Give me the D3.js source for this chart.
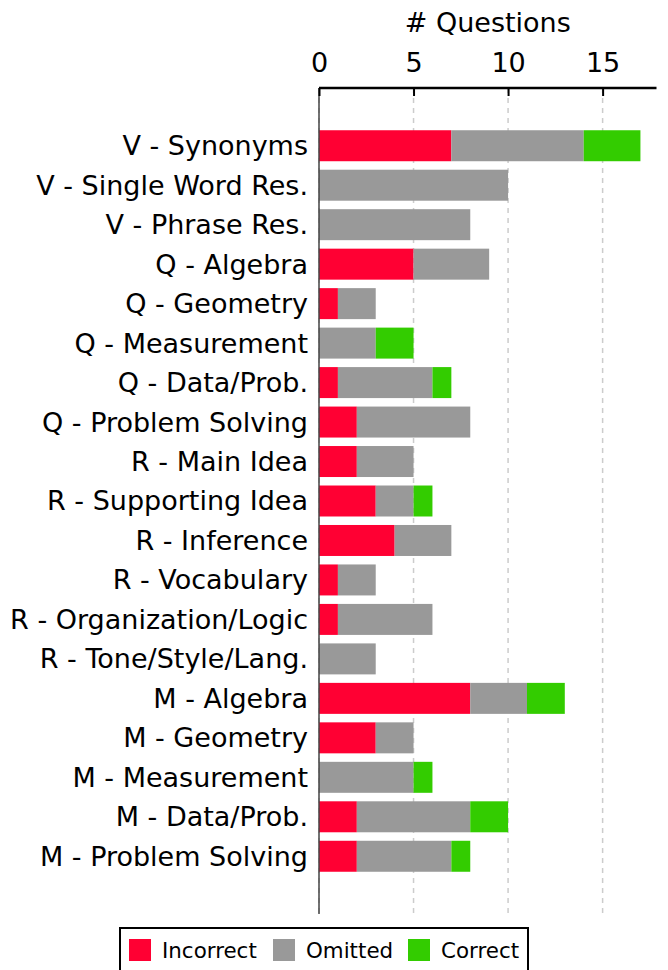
<!DOCTYPE html>
<html>
<head>
<meta charset="utf-8">
<script src="https://cdn.jsdelivr.net/npm/d3@7"></script>
<style>
  body { margin: 0; background: #fff; }
  text { font-family: "DejaVu Sans", sans-serif; fill: #000; }
</style>
</head>
<body>
<div id="chart"></div>
<script>
const categories = [
  "V - Synonyms", "V - Single Word Res.", "V - Phrase Res.",
  "Q - Algebra", "Q - Geometry", "Q - Measurement", "Q - Data/Prob.", "Q - Problem Solving",
  "R - Main Idea", "R - Supporting Idea", "R - Inference", "R - Vocabulary",
  "R - Organization/Logic", "R - Tone/Style/Lang.",
  "M - Algebra", "M - Geometry", "M - Measurement", "M - Data/Prob.", "M - Problem Solving"
];
const incorrect = [7, 0, 0, 5, 1, 0, 1, 2, 2, 3, 4, 1, 1, 0, 8, 3, 0, 2, 2];
const omitted   = [7, 10, 8, 4, 2, 3, 5, 6, 3, 2, 3, 2, 5, 3, 3, 2, 5, 6, 5];
const correct   = [3, 0, 0, 0, 0, 2, 1, 0, 0, 1, 0, 0, 0, 0, 2, 0, 1, 2, 1];
const seriesNames = ["Incorrect", "Omitted", "Correct"];
const seriesColors = ["#ff0033", "#999999", "#33cc00"];
const xTicks = [0, 5, 10, 15];

const width = 668, height = 970;
const svg = d3.select("#chart").append("svg")
  .attr("width", width).attr("height", height);

const x = d3.scaleLinear().domain([0, 17.85]).range([319, 656.5]);
const y = d3.scaleBand().domain(categories).range([126, 876])
  .paddingInner(0.215).paddingOuter(0.1075);

const plotTop = 88, plotBottom = 914;

// grid
svg.append("g").selectAll("line")
  .data(xTicks)
  .enter().append("line")
  .attr("x1", d => x(d)).attr("x2", d => x(d))
  .attr("y1", plotTop).attr("y2", plotBottom)
  .attr("stroke", "#cccccc").attr("stroke-width", 1.5)
  .attr("stroke-dasharray", "5,5");

// stacked bars
const table = categories.map((c, i) => ({
  cat: c, Incorrect: incorrect[i], Omitted: omitted[i], Correct: correct[i]
}));
const stack = d3.stack().keys(seriesNames)(table);

svg.append("g").selectAll("g")
  .data(stack)
  .enter().append("g")
  .attr("fill", (d, i) => seriesColors[i])
  .selectAll("rect")
  .data(d => d.filter(s => s[1] > s[0]))
  .enter().append("rect")
  .attr("x", d => x(d[0]))
  .attr("width", d => x(d[1]) - x(d[0]))
  .attr("y", d => y(d.data.cat))
  .attr("height", y.bandwidth());

// left spine
svg.append("line")
  .attr("x1", x(0)).attr("x2", x(0))
  .attr("y1", plotTop).attr("y2", plotBottom)
  .attr("stroke", "#444").attr("stroke-width", 1.5);

// top axis
const xAxis = d3.axisTop(x).tickValues(xTicks).tickSize(-8).tickPadding(16);
const gx = svg.append("g").attr("transform", `translate(0,${plotTop})`).call(xAxis);
gx.select(".domain").remove();
gx.append("line")
  .attr("x1", x(0)).attr("x2", x.range()[1])
  .attr("stroke", "#000").attr("stroke-width", 2.5);
gx.selectAll(".tick line").attr("stroke", "#000").attr("stroke-width", 2);
gx.selectAll(".tick text")
  .attr("font-family", "DejaVu Sans").attr("font-size", 27).attr("fill", "#000")
  .attr("y", -16);

svg.append("text")
  .attr("x", (x(0) + x.range()[1]) / 2).attr("y", 32)
  .attr("text-anchor", "middle").attr("font-size", 27)
  .text("# Questions");

// category labels
svg.append("g").selectAll("text")
  .data(categories)
  .enter().append("text")
  .attr("x", 308)
  .attr("y", d => y(d) + y.bandwidth() / 2)
  .attr("dy", "0.35em")
  .attr("text-anchor", "end")
  .attr("font-size", 27)
  .text(d => d);

// legend
const legend = svg.append("g");
legend.append("rect")
  .attr("x", 120).attr("y", 928).attr("width", 408).attr("height", 60)
  .attr("fill", "#fff").attr("stroke", "#000").attr("stroke-width", 2);
const legendX = [129, 273, 408];
seriesNames.forEach((name, i) => {
  legend.append("rect")
    .attr("x", legendX[i]).attr("y", 939).attr("width", 22).attr("height", 22)
    .attr("fill", seriesColors[i]);
  legend.append("text")
    .attr("x", legendX[i] + 33).attr("y", 958)
    .attr("font-size", 21.4)
    .text(name);
});
</script>
</body>
</html>
